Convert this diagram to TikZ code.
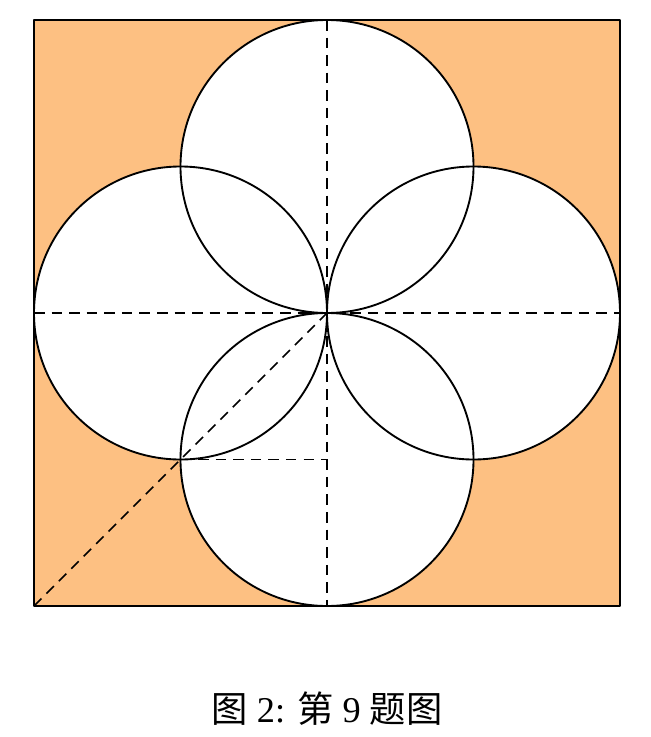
\documentclass[tikz,border=0pt]{standalone}
\usepackage{fontspec}
\setmainfont{Liberation Serif}
\newfontfamily\cjk{Noto Sans CJK SC}
\usetikzlibrary{positioning, calc}
\definecolor{paper}{RGB}{253,192,130}

\begin{document}
\begin{tikzpicture}
            [x=0.03cm, y=-0.03cm, line join=round,
            edge/.style={draw=black, line width=1.6pt},
            petal/.style={fill=white},
            rim/.style={draw=black, line width=1.6pt},
            guide/.style={draw=black, line width=1.4pt, dash pattern=on 9pt off 6pt}]
            \useasboundingbox (0,0) rectangle (650,737);
            \coordinate (O) at (327,313);
            \coordinate (SW) at (34,606);
            \coordinate (NE) at (620,20);
            % sheet
            \fill[paper] (SW) rectangle (NE);
            % four circles
            \foreach \dx/\dy in {0/-146.5, 146.5/0, 0/146.5, -146.5/0}
                \fill[petal] ($(O)+(\dx,\dy)$) circle[radius=146.5];
            \foreach \dx/\dy in {0/-146.5, 146.5/0, 0/146.5, -146.5/0}
                \draw[rim] ($(O)+(\dx,\dy)$) circle[radius=146.5];
            \draw[edge] (SW) rectangle (NE);
            % fold lines
            \coordinate (T) at (327,20);
            \coordinate (B) at (327,606);
            \coordinate (L) at (34,313);
            \coordinate (R) at (620,313);
            \coordinate (P) at (180.5,459.5);
            \coordinate (Q) at (327,459.5);
            \draw[guide] (T) -- (B);
            \draw[guide] (L) -- (R);
            \draw[guide] (SW) -- (O);
            \draw[guide] (P) -- (Q);
            \node (cap) at (327,709) {\fontsize{31}{36}\selectfont{\cjk 图} 2: {\cjk 第} 9 {\cjk 题图}};
        \end{tikzpicture}
\end{document}
